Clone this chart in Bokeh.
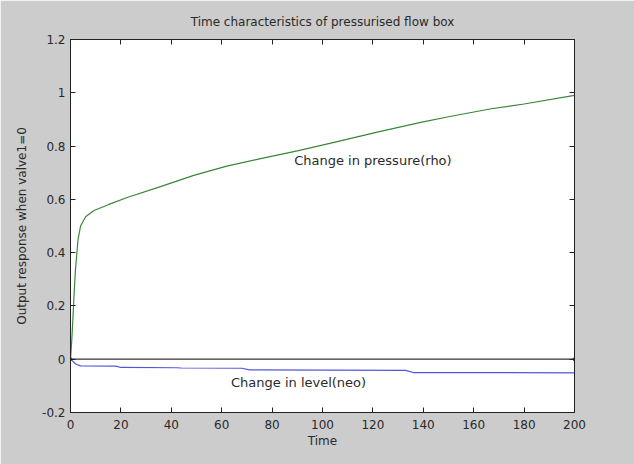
from bokeh.plotting import figure
from bokeh.models import Range1d, LinearAxis, FixedTicker, Label
from bokeh.embed import file_html
from bokeh.resources import INLINE

# ---- data ----
time_p = [0, 0.5, 1, 1.5, 2, 3, 4, 6, 9.3, 15, 22.5, 35.7, 48.9, 62, 75, 90, 105,
          123, 139, 150, 167, 180, 200]
pressure = [0, 0.07, 0.16, 0.26, 0.34, 0.45, 0.50, 0.535, 0.558, 0.58, 0.607, 0.648,
            0.69, 0.725, 0.752, 0.782, 0.815, 0.855, 0.889, 0.91, 0.94, 0.958, 0.99]

time_l = [0, 1, 2, 4, 18, 20, 42, 44, 68, 71, 133, 136, 200]
level = [0, -0.008, -0.018, -0.025, -0.026, -0.031, -0.032, -0.033, -0.034, -0.04,
         -0.042, -0.05, -0.051]

zero_t = [0, 200]
zero_v = [0, 0]

x_ticks = [0, 20, 40, 60, 80, 100, 120, 140, 160, 180, 200]
y_ticks = [-0.2, 0, 0.2, 0.4, 0.6, 0.8, 1, 1.2]
y_tick_labels = ["-0.2", "0", "0.2", "0.4", "0.6", "0.8", "1", "1.2"]

FONT = "DejaVu Sans"
TXT = "#2a2a2a"
BG = "#cccccc"

p = figure(width=634, height=464, output_backend="svg", toolbar_location=None,
           x_range=Range1d(0, 200), y_range=Range1d(-0.2, 1.2),
           min_border_left=70, min_border_right=60, min_border_top=39,
           min_border_bottom=52, background_fill_color="white",
           border_fill_color=BG, outline_line_color="#222222",
           title="Time characteristics of pressurised flow box")

p.grid.visible = False
p.title.align = "center"
p.title.text_font = FONT
p.title.text_font_size = "12px"
p.title.text_font_style = "normal"
p.title.text_color = TXT
p.title.standoff = 22

def style_axis(ax):
    ax.axis_line_color = "#222222"
    ax.major_tick_in = 5
    ax.major_tick_out = 0
    ax.minor_tick_in = 0
    ax.minor_tick_out = 0
    ax.major_tick_line_color = "#222222"
    ax.major_label_text_font = FONT
    ax.major_label_text_font_size = "12px"
    ax.major_label_text_color = TXT
    ax.axis_label_text_font = FONT
    ax.axis_label_text_font_size = "12px"
    ax.axis_label_text_font_style = "normal"
    ax.axis_label_text_color = TXT

xa = p.xaxis[0]
xa.ticker = FixedTicker(ticks=x_ticks)
xa.axis_label = "Time"
xa.major_label_standoff = 7
xa.axis_label_standoff = 2
style_axis(xa)

ya = p.yaxis[0]
ya.ticker = FixedTicker(ticks=y_ticks)
ya.major_label_overrides = {t: l for t, l in zip(y_ticks, y_tick_labels)}
ya.axis_label = "Output response when valve1=0"
ya.major_label_standoff = 5
ya.axis_label_standoff = 10
style_axis(ya)

top = LinearAxis(ticker=FixedTicker(ticks=x_ticks))
style_axis(top)
top.major_label_overrides = {t: "" for t in x_ticks}
top.major_label_standoff = 0
p.add_layout(top, "above")
right = LinearAxis(ticker=FixedTicker(ticks=y_ticks))
style_axis(right)
right.major_label_overrides = {t: "" for t in y_ticks}
right.major_label_standoff = 0
p.add_layout(right, "right")

p.line(zero_t, zero_v, line_color="#333333", line_width=1.2)
p.scatter(zero_t, zero_v, size=3, color="#333333")
p.line(time_p, pressure, line_color="#3a863a", line_width=1.2)
p.line(time_l, level, line_color="#5555dc", line_width=1.2)

for x, y, t in [(120, 0.745, "Change in pressure(rho)"),
                (90.5, -0.086, "Change in level(neo)")]:
    p.add_layout(Label(x=x, y=y, text=t, text_align="center", text_baseline="middle",
                       text_font=FONT, text_font_size="13px", text_color=TXT))

html = file_html(p, INLINE)
html = html.replace("<body>", '<body style="background:%s;margin:0;">' % BG, 1)
open("out.html", "w").write(html)
